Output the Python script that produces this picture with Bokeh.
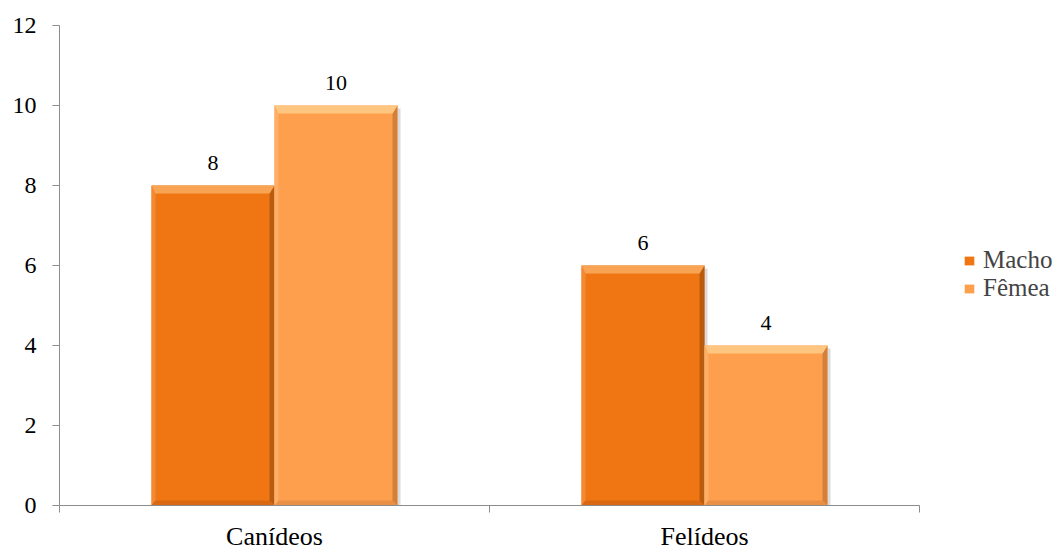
from bokeh.plotting import figure
from bokeh.models import (FixedTicker, Range1d, Legend, LegendItem,
                          ColumnDataSource, CustomJSTickFormatter)
from bokeh.core.properties import value
from bokeh.embed import file_html
from bokeh.resources import INLINE

# --- data -------------------------------------------------------------
categories = ["Canídeos", "Felídeos"]
macho = [8, 6]
femea = [10, 4]
y_ticks = [0, 2, 4, 6, 8, 10, 12]

# --- styling -------------------------------------------------------------
FONT = "Liberation Serif"
AXIS_GREY = "#8c8c8c"
# (body, top bevel, right bevel, bottom bevel, left bevel)
PALETTE = {
    "Macho": ("#f07614", "#f8a454", "#b95c10", "#d96812", "#f38a33"),
    "Fêmea": ("#fd9f4d", "#ffc681", "#d3813a", "#ea9046", "#feae66"),
}

W, H = 1061, 553
B_LEFT, B_TOP, B_BOTTOM = 59, 25, 44
AXIS_END = 919          # pixel where the category axis stops
FW = W - B_LEFT         # frame runs to the right edge so the legend fits inside
FH = H - B_TOP - B_BOTTOM
Y_MAX = 12
N = len(categories)
X_END = N * FW / (AXIS_END - B_LEFT)

p = figure(width=W, height=H,
           x_range=Range1d(0, X_END), y_range=Range1d(0, Y_MAX),
           output_backend="svg", toolbar_location=None,
           min_border_left=B_LEFT, min_border_right=0,
           min_border_top=B_TOP, min_border_bottom=B_BOTTOM)
p.outline_line_color = None
p.xgrid.visible = False
p.ygrid.visible = False
p.background_fill_color = "white"

# pixel -> data conversions used for the bevel edges
px_x = X_END / FW
px_y = Y_MAX / FH

BAR_W = 0.286  # fraction of a category slot per bar

legend_items = []
for k, (name, vals) in enumerate([("Macho", macho), ("Fêmea", femea)]):
    body, c_top, c_right, c_bot, c_left = PALETTE[name]
    centers = [i + 0.5 + (k - 0.5) * BAR_W for i in range(N)]
    x0 = [c - BAR_W / 2 for c in centers]
    x1 = [c + BAR_W / 2 for c in centers]

    # soft shadow on the right
    p.quad(left=x1, right=[a + 3 * px_x for a in x1],
           bottom=[0] * len(vals), top=[v - 3 * px_y for v in vals],
           fill_color="#b0b0b0", fill_alpha=0.45, line_color=None)

    src = ColumnDataSource(dict(left=x0, right=x1, top=vals,
                                bottom=[0] * len(vals)))
    r = p.quad(left="left", right="right", top="top", bottom="bottom",
               source=src, fill_color=body, line_color=None)
    legend_items.append(LegendItem(label=name, renderers=[r]))

    bt, br, bb, bl = 8 * px_y, 5 * px_x, 5 * px_y, 4 * px_x
    tops, rights, bots, lefts = ([], []), ([], []), ([], []), ([], [])
    for a, b, h in zip(x0, x1, vals):
        tops[0].append([a, b, b - br, a + bl]); tops[1].append([h, h, h - bt, h - bt])
        rights[0].append([b, b, b - br, b - br]); rights[1].append([h, 0, bb, h - bt])
        bots[0].append([a, b, b - br, a + bl]); bots[1].append([0, 0, bb, bb])
        lefts[0].append([a, a, a + bl, a + bl]); lefts[1].append([0, h, h - bt, bb])
    p.patches(xs=lefts[0], ys=lefts[1], fill_color=c_left, line_color=None)
    p.patches(xs=bots[0], ys=bots[1], fill_color=c_bot, line_color=None)
    p.patches(xs=rights[0], ys=rights[1], fill_color=c_right, line_color=None)
    p.patches(xs=tops[0], ys=tops[1], fill_color=c_top, line_color=None)

    # value labels above the bars
    p.text(x=centers, y=vals, text=[str(v) for v in vals],
           text_align="center", text_baseline="alphabetic", y_offset=-23,
           text_font=value(FONT), text_font_size="22px", text_color="black")

# --- axes ---------------------------------------------------------------
yax = p.yaxis[0]
yax.ticker = FixedTicker(ticks=y_ticks, minor_ticks=[])
yax.axis_line_color = AXIS_GREY
yax.major_tick_line_color = AXIS_GREY
yax.major_tick_out = 7
yax.major_tick_in = 0
yax.minor_tick_line_color = None
yax.major_label_standoff = 16
yax.major_label_text_font = FONT
yax.major_label_text_font_size = "24px"
yax.major_label_text_color = "black"

xax = p.xaxis[0]
xax.bounds = (0, N)
xax.ticker = FixedTicker(ticks=[i + 0.5 for i in range(N)],
                         minor_ticks=list(range(N + 1)))
xax.formatter = CustomJSTickFormatter(args=dict(labels=categories),
                                      code="return labels[Math.floor(tick)] || '';")
xax.axis_line_color = AXIS_GREY
xax.major_tick_line_color = None
xax.minor_tick_line_color = AXIS_GREY
xax.minor_tick_out = 7
xax.minor_tick_in = 0
xax.major_label_standoff = 9
xax.major_label_text_font = FONT
xax.major_label_text_font_size = "26px"
xax.major_label_text_color = "black"

# --- legend -------------------------------------------------------------
legend = Legend(items=legend_items, location=(904, 203),
                label_text_font=FONT, label_text_font_size="25px",
                glyph_width=12, glyph_height=11, label_standoff=8,
                label_height=27, spacing=0, padding=0, margin=0,
                border_line_alpha=0, background_fill_alpha=0)
p.add_layout(legend)

open("out.html", "w").write(file_html(p, INLINE))
